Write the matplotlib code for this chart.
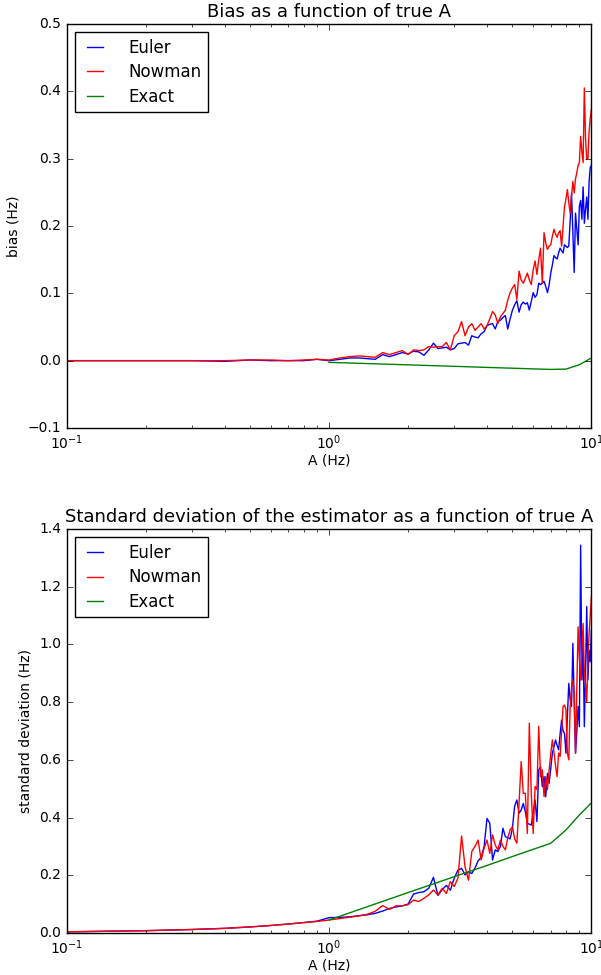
#!/usr/bin/env python3

import matplotlib.pyplot as plt

# grid of true A values (Hz)
A = [0.1, 0.2, 0.3, 0.4, 0.5, 0.6, 0.7, 0.8, 0.9,
     1.0, 1.1, 1.2, 1.3, 1.4, 1.5, 1.6, 1.7, 1.8, 1.9,
     2.0, 2.1, 2.2, 2.3, 2.4, 2.5, 2.6, 2.7, 2.8, 2.9,
     3.0, 3.1, 3.2, 3.3, 3.4, 3.5, 3.6, 3.7, 3.8, 3.9,
     4.0, 4.1, 4.2, 4.3, 4.4, 4.5, 4.6, 4.7, 4.8, 4.9,
     5.0, 5.1, 5.2, 5.3, 5.4, 5.5, 5.6, 5.7, 5.8, 5.9,
     6.0, 6.1, 6.2, 6.3, 6.4, 6.5, 6.6, 6.7, 6.8, 6.9,
     7.0, 7.1, 7.2, 7.3, 7.4, 7.5, 7.6, 7.7, 7.8, 7.9,
     8.0, 8.1, 8.2, 8.3, 8.4, 8.5, 8.6, 8.7, 8.8, 8.9,
     9.0, 9.1, 9.2, 9.3, 9.4, 9.5, 9.6, 9.7, 9.8, 9.9,
     10.0]

A_exact = [1.0, 2.0, 3.0, 4.0, 5.0, 6.0, 7.0, 8.0, 9.0, 10.0]

bias_euler = [0.000, 0.000, 0.000, -0.001, 0.001, 0.000, 0.000, 0.000, 0.002,
              0.000, 0.002, 0.004, 0.004, 0.003, 0.002, 0.009, 0.006, 0.009, 0.012,
              0.010, 0.014, 0.013, 0.008, 0.016, 0.026, 0.018, 0.019, 0.020, 0.016,
              0.018, 0.025, 0.026, 0.027, 0.023, 0.037, 0.035, 0.034, 0.040, 0.043,
              0.052, 0.054, 0.055, 0.047, 0.058, 0.060, 0.064, 0.067, 0.047, 0.062,
              0.075, 0.083, 0.089, 0.072, 0.083, 0.087, 0.084, 0.086, 0.075, 0.088,
              0.101, 0.094, 0.098, 0.115, 0.113, 0.115, 0.118, 0.110, 0.101, 0.112,
              0.130, 0.142, 0.156, 0.153, 0.151, 0.160, 0.167, 0.163, 0.160, 0.172,
              0.170, 0.168, 0.170, 0.207, 0.249, 0.190, 0.131, 0.219, 0.195, 0.172,
              0.229, 0.238, 0.210, 0.258, 0.204, 0.225, 0.243, 0.210, 0.265, 0.287,
              0.290]

bias_nowman = [0.000, 0.000, 0.000, 0.000, 0.001, 0.001, 0.000, 0.001, 0.002,
               0.001, 0.004, 0.006, 0.007, 0.006, 0.005, 0.012, 0.009, 0.012, 0.015,
               0.009, 0.016, 0.015, 0.016, 0.021, 0.020, 0.021, 0.021, 0.027, 0.016,
               0.037, 0.043, 0.058, 0.037, 0.050, 0.055, 0.045, 0.050, 0.055, 0.047,
               0.052, 0.062, 0.073, 0.068, 0.055, 0.065, 0.070, 0.075, 0.090, 0.101,
               0.108, 0.113, 0.091, 0.133, 0.120, 0.115, 0.122, 0.130, 0.120, 0.113,
               0.135, 0.148, 0.128, 0.150, 0.167, 0.115, 0.190, 0.175, 0.165, 0.170,
               0.172, 0.185, 0.195, 0.188, 0.183, 0.190, 0.193, 0.170, 0.200, 0.229,
               0.240, 0.254, 0.235, 0.219, 0.245, 0.266, 0.249, 0.270, 0.279, 0.290,
               0.294, 0.333, 0.310, 0.294, 0.405, 0.330, 0.299, 0.300, 0.340, 0.360,
               0.373]

bias_exact = [-0.0025, -0.0062, -0.0084, -0.0100, -0.0112, -0.0122, -0.0130,
              -0.0125, -0.0060, 0.0040]

std_euler = [0.004, 0.008, 0.012, 0.016, 0.021, 0.026, 0.031, 0.036, 0.041,
             0.053, 0.054, 0.056, 0.060, 0.063, 0.068, 0.076, 0.085, 0.090, 0.094,
             0.100, 0.135, 0.140, 0.143, 0.155, 0.193, 0.130, 0.150, 0.165, 0.148,
             0.190, 0.218, 0.224, 0.201, 0.212, 0.206, 0.225, 0.250, 0.262, 0.300,
             0.397, 0.380, 0.253, 0.288, 0.282, 0.300, 0.363, 0.334, 0.330, 0.326,
             0.363, 0.440, 0.461, 0.415, 0.426, 0.449, 0.420, 0.380, 0.377, 0.374,
             0.420, 0.461, 0.386, 0.565, 0.576, 0.507, 0.542, 0.472, 0.553, 0.519,
             0.570, 0.623, 0.645, 0.669, 0.650, 0.635, 0.690, 0.738, 0.700, 0.692,
             0.623, 0.750, 0.865, 0.810, 0.785, 1.004, 0.800, 0.623, 0.700, 0.785,
             0.715, 1.344, 0.877, 1.000, 0.715, 0.900, 1.131, 0.877, 0.980, 0.940,
             1.050]

std_nowman = [0.004, 0.008, 0.012, 0.016, 0.021, 0.026, 0.031, 0.036, 0.040,
              0.045, 0.050, 0.055, 0.059, 0.065, 0.075, 0.095, 0.082, 0.094, 0.094,
              0.098, 0.114, 0.109, 0.120, 0.132, 0.149, 0.132, 0.155, 0.137, 0.178,
              0.161, 0.190, 0.336, 0.229, 0.183, 0.282, 0.300, 0.322, 0.253, 0.294,
              0.322, 0.276, 0.340, 0.305, 0.288, 0.322, 0.300, 0.288, 0.330, 0.357,
              0.368, 0.326, 0.311, 0.450, 0.594, 0.484, 0.484, 0.345, 0.727, 0.484,
              0.345, 0.508, 0.497, 0.716, 0.542, 0.565, 0.473, 0.542, 0.497, 0.565,
              0.620, 0.669, 0.627, 0.580, 0.542, 0.623, 0.612, 0.700, 0.785, 0.790,
              0.773, 0.623, 0.600, 0.785, 0.850, 0.877, 0.831, 0.623, 0.850, 1.061,
              0.950, 0.877, 0.980, 1.073, 0.900, 0.865, 0.800, 0.950, 1.038, 1.100,
              1.165]

std_exact = [0.045, 0.140, 0.195, 0.234, 0.265, 0.290, 0.311, 0.357, 0.409, 0.451]


def draw_panel(ax, euler, nowman, exact, title, ylabel, ylim):
    ax.plot(A, euler, color="b", linewidth=1.0, label="Euler")
    ax.plot(A, nowman, color="r", linewidth=1.0, label="Nowman")
    ax.plot(A_exact, exact, color="g", linewidth=1.0, label="Exact")
    ax.set_xscale("log")
    ax.set_xlim(0.1, 10)
    ax.set_ylim(*ylim)
    ax.set_title(title, fontsize=13)
    ax.set_xlabel("A (Hz)", fontsize=10, labelpad=1)
    ax.set_ylabel(ylabel, fontsize=10)
    ax.tick_params(labelsize=10)
    ax.legend(loc="upper left", fontsize=12, handlelength=1.6,
              handletextpad=1.2, labelspacing=0.38, borderaxespad=0.5)


plt.style.use("classic")
fig = plt.figure(figsize=(6.01, 9.75), dpi=100, facecolor="white")

ax1 = fig.add_axes([0.111, 0.561, 0.873, 0.4145])
draw_panel(ax1, bias_euler, bias_nowman, bias_exact,
           "Bias as a function of true A", "bias (Hz)", (-0.1, 0.5))

ax2 = fig.add_axes([0.111, 0.0431, 0.873, 0.4143])
draw_panel(ax2, std_euler, std_nowman, std_exact,
           "Standard deviation of the estimator as a function of true A",
           "standard deviation (Hz)", (0.0, 1.4))

fig.savefig("out.png", dpi=100, facecolor="white")
